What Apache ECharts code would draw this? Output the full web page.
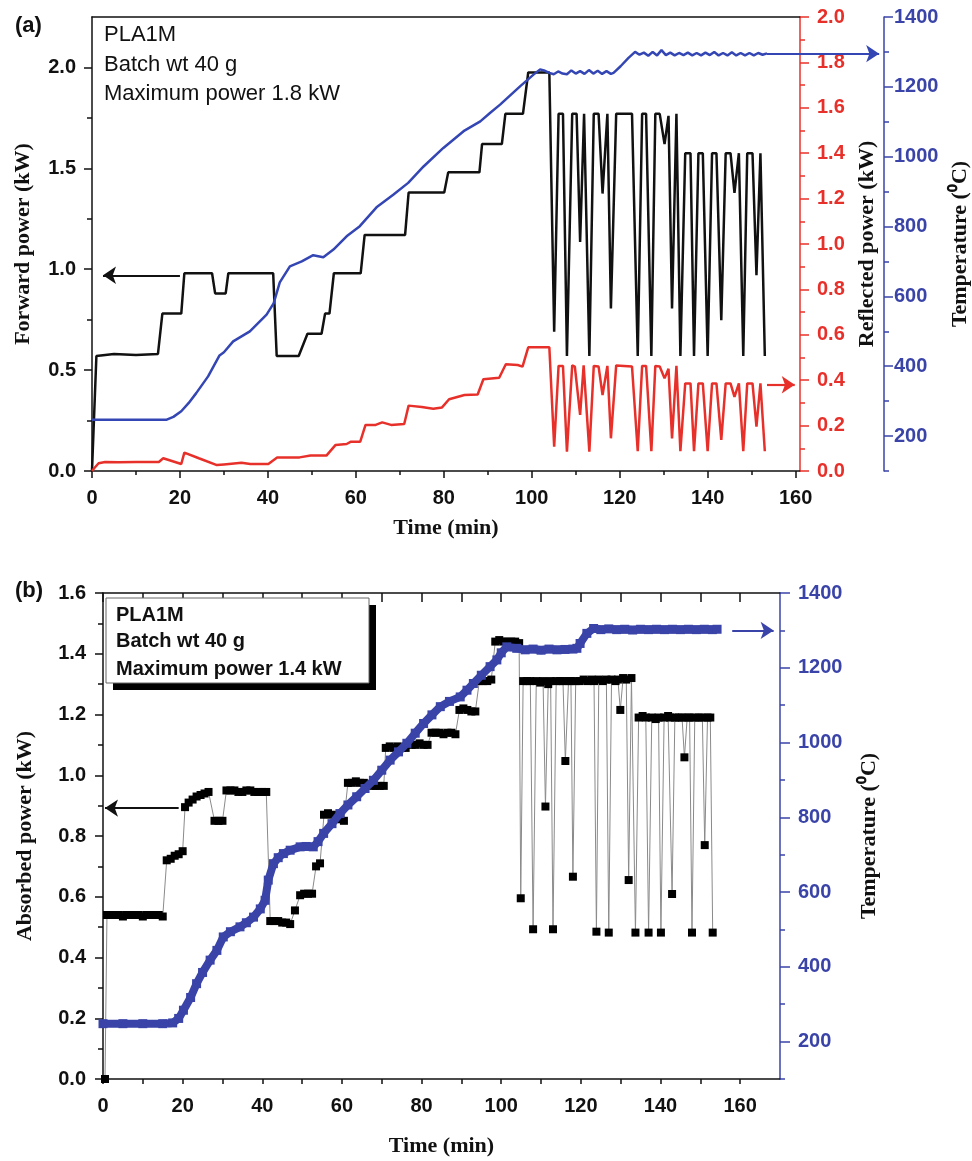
<!DOCTYPE html>
<html>
<head>
<meta charset="utf-8">
<title>PLA1M power and temperature</title>
<script src="https://cdn.jsdelivr.net/npm/echarts@6/dist/echarts.min.js"></script>
<style>
  html, body { margin: 0; padding: 0; background: #fff; }
  #main { width: 972px; height: 1161px; }
</style>
</head>
<body>
<div id="main"></div>
<script>
// ---- panel (a): [time (min), value] ----
const forwardPower = [
  [0,0],[1,0.57],[5,0.58],[10,0.575],[15,0.58],[16,0.78],[20.3,0.78],[21,0.98],[27.3,0.98],[28,0.88],
  [30.4,0.88],[31,0.98],[41.2,0.98],[42,0.57],[47,0.57],[49,0.68],[52.2,0.68],[53,0.78],[54,0.78],[55,0.98],
  [61.1,0.98],[62,1.17],[71.2,1.17],[72,1.38],[80.1,1.38],[81,1.48],[88.1,1.48],[88.7,1.62],[93.2,1.62],[94,1.77],
  [98,1.77],[99.2,1.975],[104,1.975],[105.1,0.69],[106.1,1.77],[107.1,1.77],[108,0.57],[109.2,1.77],[110.2,1.77],[111,1.135],
  [111.9,1.77],[113.1,0.57],[114.1,1.77],[115.2,1.77],[116.1,1.375],[117.2,1.77],[118,0.805],[119.2,1.77],[122.8,1.77],[124.1,0.57],
  [125.1,1.77],[126,1.77],[127.2,0.57],[128.1,1.77],[129.1,1.77],[130.2,1.62],[131.1,1.76],[131.9,0.805],[132.9,1.77],[133.8,0.57],
  [134.9,1.575],[136.1,1.575],[136.9,0.57],[137.9,1.575],[138.9,1.575],[140,0.57],[141,1.575],[142,1.575],[143.1,0.747],[144.1,1.575],
  [145.2,1.575],[146.1,1.378],[147.1,1.575],[148.1,0.57],[149,1.575],[150.2,1.575],[151.1,0.97],[152,1.575],[153,0.57]
];
const reflectedPower = [
  [0,0],[0.5,0.012],[1.5,0.034],[3,0.04],[6,0.038],[10,0.04],[15.2,0.04],[16.2,0.056],[20.3,0.031],[21,0.081],
  [24.3,0.056],[28.4,0.026],[30,0.029],[34,0.036],[36,0.031],[40.1,0.031],[42.1,0.059],[47.2,0.06],[49.7,0.068],[53.3,0.068],
  [55.4,0.115],[57.9,0.119],[58.9,0.129],[61,0.129],[62.2,0.203],[64.5,0.203],[66,0.214],[68,0.203],[71,0.207],[72,0.288],
  [75,0.282],[77.6,0.274],[79.6,0.28],[81.2,0.316],[84.7,0.335],[87.7,0.337],[89,0.404],[92.6,0.411],[94.1,0.47],[96.8,0.467],
  [97.9,0.46],[99.2,0.545],[104,0.545],[105.1,0.107],[106.1,0.463],[107.1,0.463],[108,0.085],[109.2,0.465],[109.8,0.46],[111,0.247],
  [111.8,0.465],[113.1,0.085],[114.1,0.463],[115.2,0.46],[116.1,0.335],[117.2,0.463],[118,0.144],[119.2,0.465],[122.8,0.46],[124.1,0.087],
  [125.1,0.463],[126,0.463],[127.2,0.087],[128.1,0.463],[129.1,0.46],[130.2,0.408],[131.1,0.45],[131.9,0.144],[132.9,0.463],[133.8,0.087],
  [134.9,0.386],[136.1,0.386],[136.9,0.087],[137.9,0.386],[138.9,0.386],[140,0.087],[141,0.386],[142,0.386],[143.1,0.137],[144.1,0.386],
  [145.2,0.386],[146.1,0.327],[147.1,0.386],[148.1,0.087],[149,0.386],[150.2,0.386],[151.1,0.195],[152,0.386],[153,0.087]
];
const temperatureA = [
  [0,247],[17,247],[18.5,255],[20.3,271],[22,295],[23.7,323],[26.4,371],[29,431],[30,440],[32.1,471],
  [35.9,500],[39.7,548],[41.3,580],[42.7,640],[45,686],[47.7,700],[50.3,718],[52.6,712],[54.9,734],[57.9,772],
  [60.9,801],[64.7,855],[68.5,891],[71.9,925],[75.4,972],[79.9,1025],[84.5,1073],[88.3,1101],[90.5,1125],[92.8,1149],
  [97.4,1202],[100.4,1235],[101.9,1250],[103,1246],[104,1240],[105,1236],[106,1244],[107,1238],[108,1236],[109,1247],
  [110,1238],[111,1245],[112,1237],[113,1248],[114,1238],[115,1246],[116,1237],[117,1245],[118,1237],[118.6,1240],
  [120.2,1259],[122,1283],[123.5,1300],[124.5,1292],[125.5,1298],[126.5,1289],[127.5,1300],[128.5,1290],[129.5,1305],[130.5,1291],
  [131.5,1298],[132.5,1290],[133.5,1297],[134.5,1291],[135.5,1298],[136.5,1290],[137.5,1297],[138.5,1290],[139.5,1298],[140.5,1291],
  [141.5,1300],[142.5,1290],[143.5,1297],[144.5,1290],[145.5,1299],[146.5,1290],[147.5,1297],[148.5,1290],[149.5,1297],[150.5,1290],
  [151.5,1297],[152.5,1292],[153.5,1296]
];
// arrows pointing at the axis each curve belongs to
const arrowForwardA = [[20, 0.97], [2.5, 0.97]];
const arrowReflectedA = [[153.5, 0.38], [159.8, 0.38]];
const arrowTempA = [[153.5, 1295], [179, 1295]];

// ---- panel (b) ----
const absorbedPower = [
  [0.5,0],[1,0.54],[2,0.54],[3,0.54],[4,0.54],[5,0.535],[6,0.54],[7,0.54],[8,0.54],[9,0.54],
  [10,0.535],[11,0.54],[12,0.54],[13,0.54],[14,0.54],[15,0.535],[16,0.72],[17,0.725],[18,0.735],[19,0.74],
  [20,0.75],[20.6,0.895],[21.5,0.91],[22.5,0.92],[23.5,0.93],[24.5,0.935],[25.5,0.94],[26.5,0.945],[28,0.85],[29,0.85],
  [30,0.85],[31,0.95],[32,0.95],[33,0.95],[34,0.945],[35,0.945],[36,0.95],[37,0.95],[38,0.945],[39,0.945],
  [40,0.945],[41,0.945],[42,0.52],[43,0.52],[44,0.52],[45,0.515],[46,0.515],[47,0.51],[48.2,0.555],[49.5,0.605],
  [50.5,0.61],[51.5,0.61],[52.5,0.61],[53.5,0.7],[54.5,0.71],[55.5,0.87],[56.5,0.875],[57.5,0.87],[58.5,0.86],[59.5,0.855],
  [60.5,0.85],[61.5,0.975],[62.5,0.975],[63.5,0.98],[64.5,0.975],[65.5,0.975],[66.5,0.97],[67.5,0.965],[68.5,0.965],[69.5,0.965],
  [70.5,0.965],[71,1.09],[72,1.095],[73,1.09],[74,1.095],[75,1.09],[76,1.09],[77.5,1.1],[78.5,1.1],[79.5,1.105],
  [80.5,1.1],[81.5,1.1],[82.5,1.14],[83.5,1.14],[84.5,1.14],[85.5,1.135],[86.5,1.14],[87.5,1.14],[88.5,1.135],[89.5,1.215],
  [90.5,1.22],[91.5,1.215],[92.5,1.21],[93.5,1.21],[94.5,1.31],[95.5,1.31],[96.5,1.31],[97.5,1.315],[98.5,1.44],[99.5,1.445],
  [100.5,1.44],[101.5,1.44],[102.5,1.44],[103.5,1.44],[104.5,1.435],[104.9,0.595],[105.5,1.31],[106.5,1.31],[107.3,1.31],[108,0.493],
  [108.8,1.31],[109.8,1.305],[110.5,1.31],[111.1,0.897],[111.8,1.3],[112.4,1.31],[113,0.493],[113.8,1.31],[114.8,1.31],[115.5,1.31],
  [116.1,1.047],[116.9,1.31],[117.5,1.31],[118,0.666],[118.7,1.31],[119.7,1.31],[120.7,1.315],[121.7,1.31],[122.7,1.315],[123.3,1.31],
  [123.9,0.485],[124.5,1.315],[125.5,1.31],[126.4,1.315],[127,0.482],[127.7,1.315],[128.7,1.31],[129.3,1.315],[129.9,1.215],[130.6,1.32],
  [131.4,1.315],[132,0.655],[132.7,1.32],[133.7,0.482],[134.5,1.19],[135.5,1.195],[136.3,1.19],[137,0.482],[137.8,1.19],[138.8,1.185],
  [139.5,1.19],[140.1,0.482],[140.9,1.19],[141.9,1.195],[142.4,1.19],[142.9,0.609],[143.6,1.19],[144.6,1.19],[145.4,1.19],[146,1.059],
  [146.7,1.19],[147.3,1.19],[147.9,0.482],[148.6,1.19],[149.6,1.19],[150.5,1.19],[151.1,0.77],[151.8,1.19],[152.5,1.19],[153.1,0.482]
];
const temperatureB = [
  [0,248],[5,248],[10,248],[15,248],[17.5,250],[19,262],[20.2,284],[22,318],[23.5,355],[25,385],
  [26.9,418],[28.6,444],[30.2,480],[32,494],[34.4,507],[36,518],[37.8,533],[39.5,555],[40.7,578],[41.5,632],
  [42.8,676],[44,692],[45.3,703],[47,712],[49.5,721],[51,722],[52.8,721],[54,735],[55.4,757],[57.5,783],
  [59.5,810],[61.5,833],[63.7,855],[65.8,877],[67.9,899],[70,926],[72.1,953],[74.2,975],[76.3,998],[78.4,1025],
  [80.5,1051],[82.6,1074],[84.7,1096],[87,1110],[89.7,1122],[91.4,1140],[93,1158],[95,1180],[97.2,1203],[98.9,1221],
  [100,1240],[101.4,1256],[103.9,1252],[106,1248],[108,1250],[110,1247],[112,1250],[114,1248],[116,1249],[118,1250],
  [119,1252],[119.8,1265],[121.5,1292],[123.2,1305],[125,1302],[127,1304],[129,1302],[131,1303],[133,1301],[135,1303],
  [137,1302],[139,1303],[141,1302],[143,1303],[145,1302],[147,1303],[149,1302],[151,1303],[153,1302],[154.2,1303]
];
const arrowAbsorbedB = [[19, 0.892], [0.5, 0.892]];
const arrowTempB = [[158, 1300], [168.4, 1300]];

// tick positions
const aTimeMajor = [0, 20, 40, 60, 80, 100, 120, 140, 160];
const aTimeMinor = [10, 30, 50, 70, 90, 110, 130, 150];
const bTimeTicks = [0, 10, 20, 30, 40, 50, 60, 70, 80, 90, 100, 110, 120, 130, 140, 150, 160];
const bTimeLabels = [0, 20, 40, 60, 80, 100, 120, 140, 160];
const fwdMajor = [0, 0.5, 1.0, 1.5, 2.0];
const fwdMinor = [0.25, 0.75, 1.25, 1.75];
const refMajor = [0, 0.2, 0.4, 0.6, 0.8, 1.0, 1.2, 1.4, 1.6, 1.8, 2.0];
const refMinor = [0.1, 0.3, 0.5, 0.7, 0.9, 1.1, 1.3, 1.5, 1.7, 1.9];
const tempMajor = [200, 400, 600, 800, 1000, 1200, 1400];
const tempMinor = [100, 300, 500, 700, 900, 1100, 1300];
const absMajor = [0, 0.2, 0.4, 0.6, 0.8, 1.0, 1.2, 1.4, 1.6];
const absMinor = [0.1, 0.3, 0.5, 0.7, 0.9, 1.1, 1.3, 1.5];

const INK = '#111';
const RED = '#e8302a';
const BLUE = '#3a44a8';
const BLUE_LINE = '#3446b4';
const tickFont = { fontFamily: 'Liberation Sans, Arial, sans-serif', fontWeight: 'bold', fontSize: 20 };
const titleFont = { fontFamily: 'Liberation Serif, Times New Roman, serif', fontWeight: 'bold', fontSize: 22, color: INK };
const oneDec = v => v.toFixed(1);
const plain = v => String(v);

// a y axis with labelled major ticks
function mainY(grid, pos, min, max, major, color, opts) {
  return Object.assign({
    type: 'value', gridIndex: grid, position: pos, min: min, max: max,
    axisLine: { show: true, onZero: false, lineStyle: { color: color, width: 1.5 } },
    axisTick: { show: true, customValues: major, length: 8, lineStyle: { color: color, width: 1.5 } },
    axisLabel: Object.assign({ customValues: major, color: color, margin: 16 }, tickFont),
    splitLine: { show: false }
  }, opts);
}
// an unlabelled axis only for the short ticks
function minorY(grid, pos, min, max, minor, color, offset) {
  return {
    type: 'value', gridIndex: grid, position: pos, min: min, max: max, offset: offset || 0,
    axisLine: { show: false, onZero: false },
    axisTick: { show: true, customValues: minor, length: 5, lineStyle: { color: color, width: 1.5 } },
    axisLabel: { show: false }, splitLine: { show: false }
  };
}
function arrow(xi, yi, coords, color) {
  return {
    type: 'lines', coordinateSystem: 'cartesian2d', xAxisIndex: xi, yAxisIndex: yi,
    clip: false, silent: true, z: 6,
    symbol: ['none', 'arrow'], symbolSize: [9, 13],
    lineStyle: { color: color, width: 2.2, opacity: 1, curveness: 0 },
    data: [{ coords: coords }]
  };
}

const chart = echarts.init(document.getElementById('main'));

chart.setOption({
  animation: false,
  backgroundColor: '#fff',
  grid: [
    { left: 92, top: 17, width: 708, height: 454, outerBoundsMode: 'none' },
    { left: 103, top: 593, width: 677, height: 486, outerBoundsMode: 'none' }
  ],
  xAxis: [
    { type: 'value', gridIndex: 0, position: 'bottom', min: 0, max: 161,
      axisLine: { onZero: false, lineStyle: { color: INK, width: 1.5 } },
      axisTick: { customValues: aTimeMajor, length: 7, lineStyle: { color: INK, width: 1.5 } },
      axisLabel: Object.assign({ customValues: aTimeMajor, color: INK, margin: 17 }, tickFont),
      splitLine: { show: false },
      name: 'Time (min)', nameLocation: 'middle', nameGap: 46, nameTextStyle: titleFont },
    { type: 'value', gridIndex: 0, position: 'bottom', min: 0, max: 161,
      axisLine: { show: false, onZero: false },
      axisTick: { customValues: aTimeMinor, length: 4, lineStyle: { color: INK, width: 1.5 } },
      axisLabel: { show: false }, splitLine: { show: false } },
    { type: 'value', gridIndex: 0, position: 'top', min: 0, max: 161,
      axisLine: { onZero: false, lineStyle: { color: INK, width: 1.5 } },
      axisTick: { show: false }, axisLabel: { show: false }, splitLine: { show: false } },
    { type: 'value', gridIndex: 1, position: 'bottom', min: 0, max: 170,
      axisLine: { onZero: false, lineStyle: { color: INK, width: 1.5 } },
      axisTick: { customValues: bTimeTicks, length: 5, lineStyle: { color: INK, width: 1.5 } },
      axisLabel: Object.assign({ customValues: bTimeLabels, color: INK, margin: 17 }, tickFont),
      splitLine: { show: false },
      name: 'Time (min)', nameLocation: 'middle', nameGap: 56, nameTextStyle: titleFont },
    { type: 'value', gridIndex: 1, position: 'top', min: 0, max: 170,
      axisLine: { onZero: false, lineStyle: { color: INK, width: 1.5 } },
      axisTick: { inside: true, customValues: bTimeTicks, length: 9, lineStyle: { color: INK, width: 1.5 } },
      axisLabel: { show: false }, splitLine: { show: false } }
  ],
  yAxis: [
    mainY(0, 'left', 0, 2.25, fwdMajor, INK, {
      axisLabel: Object.assign({ customValues: fwdMajor, color: INK, margin: 16, formatter: oneDec }, tickFont),
      name: 'Forward power (kW)', nameLocation: 'middle', nameRotate: 90, nameGap: 58, nameTextStyle: titleFont }),
    minorY(0, 'left', 0, 2.25, fwdMinor, INK),
    mainY(0, 'right', 0, 2, refMajor, RED, {
      axisTick: { show: true, customValues: refMajor, length: 9, lineStyle: { color: RED, width: 1.5 } },
      axisLabel: Object.assign({ customValues: refMajor, color: RED, margin: 17, formatter: oneDec }, tickFont),
      name: 'Reflected power (kW)', nameLocation: 'middle', nameRotate: 90, nameGap: 56, nameTextStyle: titleFont }),
    minorY(0, 'right', 0, 2, refMinor, RED),
    mainY(0, 'right', 100, 1400, tempMajor, BLUE, {
      offset: 84,
      axisTick: { show: true, customValues: tempMajor, length: 9, lineStyle: { color: BLUE, width: 1.5 } },
      axisLabel: Object.assign({ customValues: tempMajor, color: BLUE, margin: 10, formatter: plain }, tickFont),
      name: 'Temperature (\u2070C)', nameLocation: 'middle', nameRotate: 90, nameGap: 56, nameTextStyle: titleFont }),
    minorY(0, 'right', 100, 1400, tempMinor, BLUE, 84),
    mainY(1, 'left', 0, 1.6, absMajor, INK, {
      axisLabel: Object.assign({ customValues: absMajor, color: INK, margin: 17, formatter: oneDec }, tickFont),
      name: 'Absorbed power (kW)', nameLocation: 'middle', nameRotate: 90, nameGap: 67, nameTextStyle: titleFont }),
    minorY(1, 'left', 0, 1.6, absMinor, INK),
    mainY(1, 'right', 100, 1400, tempMajor, BLUE, {
      axisTick: { show: true, customValues: tempMajor, length: 10, lineStyle: { color: BLUE, width: 1.5 } },
      axisLabel: Object.assign({ customValues: tempMajor, color: BLUE, margin: 18, formatter: plain }, tickFont),
      name: 'Temperature (\u2070C)', nameLocation: 'middle', nameRotate: 90, nameGap: 78, nameTextStyle: titleFont }),
    minorY(1, 'right', 100, 1400, tempMinor, BLUE)
  ],
  series: [
    { name: 'Forward power', type: 'line', xAxisIndex: 0, yAxisIndex: 0, data: forwardPower,
      symbol: 'none', lineStyle: { color: INK, width: 2.5 }, z: 2 },
    { name: 'Reflected power', type: 'line', xAxisIndex: 0, yAxisIndex: 2, data: reflectedPower,
      symbol: 'none', lineStyle: { color: RED, width: 2.5 }, z: 3 },
    { name: 'Temperature', type: 'line', xAxisIndex: 0, yAxisIndex: 4, data: temperatureA,
      symbol: 'none', lineStyle: { color: BLUE_LINE, width: 2.5 }, z: 4 },
    arrow(0, 0, arrowForwardA, INK),
    arrow(0, 2, arrowReflectedA, RED),
    arrow(0, 4, arrowTempA, BLUE_LINE),

    { name: 'Absorbed power', type: 'line', xAxisIndex: 3, yAxisIndex: 6, data: absorbedPower,
      symbol: 'rect', symbolSize: 8, itemStyle: { color: '#000' },
      lineStyle: { color: '#8a8a8a', width: 1 }, z: 2 },
    { name: 'Temperature b', type: 'line', xAxisIndex: 3, yAxisIndex: 8, data: temperatureB,
      symbol: 'rect', symbolSize: 9, itemStyle: { color: BLUE },
      lineStyle: { color: BLUE, width: 8 }, z: 4 },
    arrow(3, 6, arrowAbsorbedB, INK),
    arrow(3, 8, arrowTempB, BLUE)
  ],
  graphic: [
    { type: 'text', x: 15, y: 26, z: 100, style: { text: '(a)', font: 'bold 22px Liberation Sans', fill: INK, verticalAlign: 'middle' } },
    { type: 'text', x: 104, y: 34.5, z: 100, style: { text: 'PLA1M', font: '22px Liberation Sans', fill: INK, verticalAlign: 'middle' } },
    { type: 'text', x: 104, y: 64.5, z: 100, style: { text: 'Batch wt 40 g', font: '22px Liberation Sans', fill: INK, verticalAlign: 'middle' } },
    { type: 'text', x: 104, y: 93.5, z: 100, style: { text: 'Maximum power 1.8 kW', font: '22px Liberation Sans', fill: INK, verticalAlign: 'middle' } },

    { type: 'text', x: 15, y: 591, z: 100, style: { text: '(b)', font: 'bold 22px Liberation Sans', fill: INK, verticalAlign: 'middle' } },
    { type: 'rect', z: 100, shape: { x: 113, y: 605, width: 263, height: 85 }, style: { fill: '#000' } },
    { type: 'rect', z: 101, shape: { x: 106, y: 598, width: 263, height: 85 }, style: { fill: '#fff', stroke: '#666', lineWidth: 1 } },
    { type: 'text', x: 116, y: 615, z: 102, style: { text: 'PLA1M', font: 'bold 20px Liberation Sans', fill: INK, verticalAlign: 'middle' } },
    { type: 'text', x: 116, y: 641, z: 102, style: { text: 'Batch wt 40 g', font: 'bold 20px Liberation Sans', fill: INK, verticalAlign: 'middle' } },
    { type: 'text', x: 116, y: 669, z: 102, style: { text: 'Maximum power 1.4 kW', font: 'bold 20px Liberation Sans', fill: INK, verticalAlign: 'middle' } }
  ]
});
</script>
</body>
</html>
